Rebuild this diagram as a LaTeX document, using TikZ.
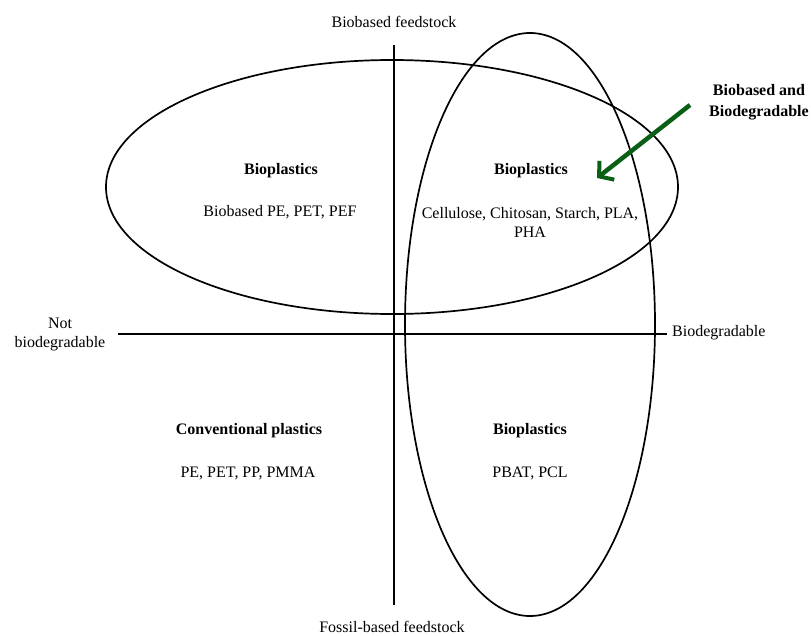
\documentclass[tikz,border=0pt]{standalone}
\usepackage{fontspec}
\setmainfont{Liberation Serif}
\usetikzlibrary{arrows.meta}
\definecolor{arrowgreen}{RGB}{10,95,20}
\tikzset{
  lbl/.style={inner sep=0pt, font=\fontsize{16}{19}\selectfont, align=center},
  ttl/.style={lbl, font=\fontsize{16}{19}\selectfont\bfseries},
  curve/.style={line width=1.7pt, black},
  axis/.style={line width=1.7pt, black}
}
\begin{document}
\begin{tikzpicture}[x=1pt,y=-1pt]
\useasboundingbox (0,0) rectangle (811,635);
% ellipses
\draw[curve] (392,187) ellipse [x radius=286pt, y radius=127pt];
\draw[curve] (530,324.5) ellipse [x radius=125pt, y radius=291.5pt];
% axes
\coordinate (vt) at (394,45);
\coordinate (vb) at (394,605);
\coordinate (hl) at (118,334);
\coordinate (hr) at (667,334);
\draw[axis] (vt) -- (vb);
\draw[axis] (hl) -- (hr);
% axis labels
\node[lbl] (top) at (394,22) {Biobased feedstock};
\node[lbl] (bot) at (392,627) {Fossil-based feedstock};
\node[lbl, anchor=west] (right) at (672,333) {Biodegradable};
\node[lbl] (left) at (60,334) {Not\\biodegradable};
% quadrant texts
\node[ttl] (q1t) at (281,171) {Bioplastics};
\node[lbl] (q1b) at (280,212) {Biobased PE, PET, PEF};
\node[ttl] (q2t) at (531,171) {Bioplastics};
\node[lbl] (q2b) at (530,222) {Cellulose, Chitosan, Starch, PLA,\\PHA};
\node[ttl] (q3t) at (249,431) {Conventional plastics};
\node[lbl] (q3b) at (248,473) {PE, PET, PP, PMMA};
\node[ttl] (q4t) at (530,431) {Bioplastics};
\node[lbl] (q4b) at (530,473) {PBAT, PCL};
% callout
\node[ttl, font=\fontsize{16}{21}\selectfont\bfseries] (bb) at (759,102) {Biobased and\\Biodegradable};
\coordinate (atail) at (690,105);
\coordinate (atip) at (597,178);
\draw[arrowgreen, line width=4.5pt, -{Straight Barb[length=10pt,width=24pt,line width=4pt]}] (atail) -- (atip);
\end{tikzpicture}
\end{document}
